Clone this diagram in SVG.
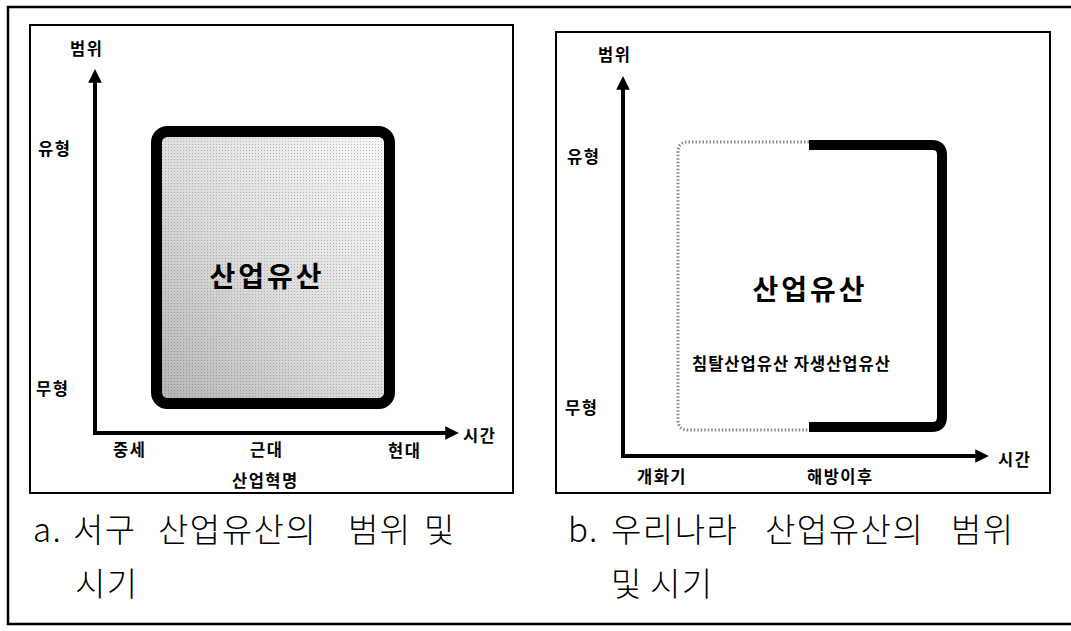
<svg xmlns="http://www.w3.org/2000/svg" width="1071" height="631" viewBox="0 0 1071 631">
<defs>
<style>
.lbl{font-family:"Noto Sans CJK KR","Noto Sans",sans-serif;font-weight:bold;font-size:16.5px;fill:#000;letter-spacing:1.5px}
.big{font-family:"Noto Sans CJK KR","Noto Sans",sans-serif;font-weight:bold;font-size:28px;fill:#000;letter-spacing:3px}
.cap{font-family:"Noto Sans CJK KR","Noto Sans",sans-serif;font-weight:300;font-size:33px;fill:#000;letter-spacing:1.5px}
.frame{fill:#fff;stroke:#000;stroke-width:2}
.axis{fill:none;stroke:#000;stroke-width:4;marker-end:url(#arr)}
</style>
<marker id="arr" viewBox="0 0 10 10" refX="2" refY="5" markerWidth="3.4" markerHeight="3.4" orient="auto" markerUnits="strokeWidth">
<path d="M0,0 L10,5 L0,10 z" fill="#000"/>
</marker>
<linearGradient id="shade" x1="0" y1="1" x2="1" y2="0">
<stop offset="0" stop-color="#b4b4b4"/>
<stop offset="0.45" stop-color="#dcdcdc"/>
<stop offset="1" stop-color="#f8f8f8"/>
</linearGradient>
<pattern id="dots" width="3" height="3" patternUnits="userSpaceOnUse">
<rect x="0" y="0" width="1" height="1" fill="#000" fill-opacity="0.22"/>
</pattern>
</defs>
<rect width="1071" height="631" fill="#fff"/>
<g id="outer-frame" fill="none" stroke="#000" stroke-width="2.5">
<path d="M1071,7 L8,7 L8,624 L1071,624"/>
</g>

<g id="panel-a">
<rect class="frame" x="30" y="25" width="483" height="468"/>
</g>
<g id="panel-b">
<rect class="frame" x="556" y="32" width="494" height="461"/>
</g>

<g id="connectors">
<path class="axis" d="M95,434 L95,80"/>
<path class="axis" d="M93,433 L448,433"/>
<path class="axis" d="M623,457 L623,87"/>
<path class="axis" d="M621,456 L978,456"/>
</g>

<g id="box-a">
<rect x="156.5" y="131.5" width="233" height="272" rx="11" fill="url(#shade)"/>
<rect x="156.5" y="131.5" width="233" height="272" rx="11" fill="url(#dots)"/>
<rect x="156.5" y="131.5" width="233" height="272" rx="11" fill="none" stroke="#000" stroke-width="11"/>
<text class="big" x="267" y="287" text-anchor="middle">산업유산</text>
</g>

<g id="box-b">
<path d="M809,142 L688,142 Q678,142 678,152 L678,420 Q678,430 688,430 L809,430" fill="none" stroke="#888" stroke-width="3" stroke-dasharray="1.5 2"/>
<path d="M809,145 L932,145 Q942,145 942,155 L942,417 Q942,427 932,427 L809,427" fill="none" stroke="#000" stroke-width="10"/>
<text class="big" x="810" y="300" text-anchor="middle">산업유산</text>
<text class="lbl" x="692" y="370" style="letter-spacing:1px">침탈산업유산 자생산업유산</text>
</g>

<g id="labels-a">
<text class="lbl" x="70" y="55">범위</text>
<text class="lbl" x="38" y="155">유형</text>
<text class="lbl" x="36" y="395">무형</text>
<text class="lbl" x="463" y="442">시간</text>
<text class="lbl" x="113" y="456">중세</text>
<text class="lbl" x="250" y="456">근대</text>
<text class="lbl" x="388" y="457">현대</text>
<text class="lbl" x="232" y="487">산업혁명</text>
</g>
<g id="labels-b">
<text class="lbl" x="598" y="61">범위</text>
<text class="lbl" x="567" y="163">유형</text>
<text class="lbl" x="565" y="414">무형</text>
<text class="lbl" x="998" y="466">시간</text>
<text class="lbl" x="637" y="483">개화기</text>
<text class="lbl" x="807" y="483">해방이후</text>
</g>

<g id="caption-a">
<text class="cap" y="542"><tspan x="33">a.</tspan><tspan x="73">서구</tspan><tspan x="158">산업유산의</tspan><tspan x="348">범위</tspan><tspan x="424">및</tspan></text>
<text class="cap" x="75" y="596">시기</text>
</g>
<g id="caption-b">
<text class="cap" y="542"><tspan x="568">b.</tspan><tspan x="611">우리나라</tspan><tspan x="765">산업유산의</tspan><tspan x="951">범위</tspan></text>
<text class="cap" y="596"><tspan x="611">및</tspan><tspan x="650">시기</tspan></text>
</g>
</svg>
